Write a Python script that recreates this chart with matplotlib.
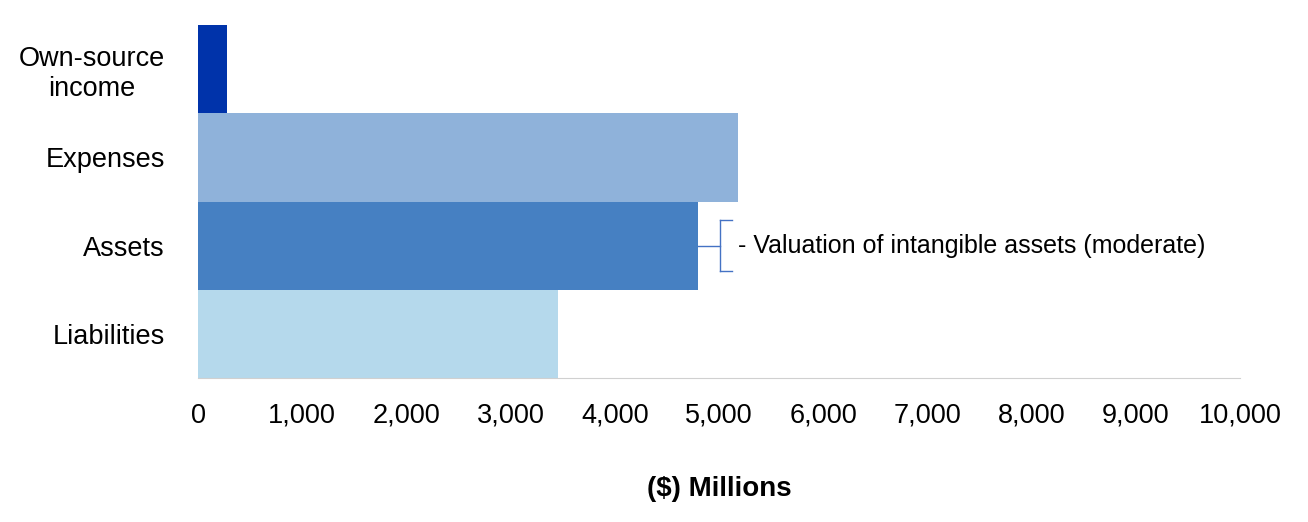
import matplotlib
matplotlib.use("Agg")
import matplotlib.pyplot as plt

categories = ["Own-source\nincome", "Expenses", "Assets", "Liabilities"]
values = [280, 5180, 4800, 3455]
colors = ["#0033AA", "#8FB2DA", "#4680C2", "#B5D9EC"]
ticks = list(range(0, 10001, 1000))
note = "- Valuation of intangible assets (moderate)"

plt.rcParams['font.family'] = ['Liberation Sans', 'DejaVu Sans']
fig = plt.figure(figsize=(13.08, 5.22), dpi=100)
ax = fig.add_axes([198/1308, 1-378/522, (1240-198)/1308, (378-25)/522])
y = list(range(len(categories)))
ax.barh(y, values, height=1.0, color=colors)
ax.set_ylim(len(categories)-0.5, -0.5)
ax.set_xlim(0, 10000)
ax.set_xticks(ticks)
ax.set_xticklabels([f"{t:,}" for t in ticks], fontsize=19.5)
ax.set_yticks(y)
ax.set_yticklabels(categories, fontsize=19.5, multialignment="center")
ax.tick_params(length=0)
ax.tick_params(axis='x', pad=18)
ax.tick_params(axis='y', pad=24)
for s in ["top", "right", "left"]:
    ax.spines[s].set_visible(False)
ax.spines["bottom"].set_color("#D0D0D0")
ax.set_xlabel("($) Millions", fontsize=20, fontweight="bold", labelpad=34)

bc = "#4472C4"
yi = 2
xv = 5010
ax.plot([values[yi], xv], [yi, yi], color=bc, lw=1)
ax.plot([xv, xv], [yi-0.29, yi+0.29], color=bc, lw=1)
ax.plot([xv, 5120], [yi-0.29, yi-0.29], color=bc, lw=1)
ax.plot([xv, 5120], [yi+0.29, yi+0.29], color=bc, lw=1)
ax.text(5180, yi, note, fontsize=18, va="center", ha="left")

fig.savefig("out.png", dpi=100)
